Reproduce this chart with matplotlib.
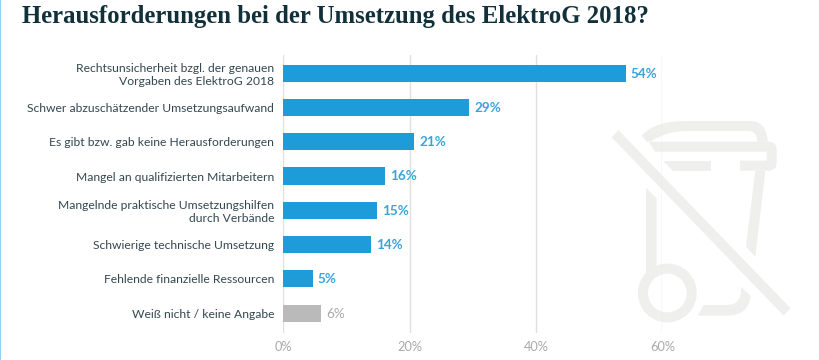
import matplotlib
matplotlib.use("Agg")
import matplotlib.pyplot as plt
from matplotlib.patches import Polygon, Circle, PathPatch, Rectangle
from matplotlib.path import Path

categories = [
    "Rechtsunsicherheit bzgl. der genauen\nVorgaben des ElektroG 2018",
    "Schwer abzuschätzender Umsetzungsaufwand",
    "Es gibt bzw. gab keine Herausforderungen",
    "Mangel an qualifizierten Mitarbeitern",
    "Mangelnde praktische Umsetzungshilfen\ndurch Verbände",
    "Schwierige technische Umsetzung",
    "Fehlende finanzielle Ressourcen",
    "Weiß nicht / keine Angabe",
]
values = [54.2, 29.4, 20.7, 16.1, 14.8, 13.8, 4.6, 6.0]
value_labels = ["54%", "29%", "21%", "16%", "15%", "14%", "5%", "6%"]
ticks = [0, 20, 40, 60]
tick_labels = ["0%", "20%", "40%", "60%"]
title = "Herausforderungen bei der Umsetzung des ElektroG 2018?"

BLUE = "#1E9CD9"
LABEL_BLUE = "#35A5DC"
GREY = "#BABABA"
GREY_TXT = "#A9A9A9"
DARK = "#33474F"
TITLE = "#12303A"
ICON = "#EFEFEE"

W, H = 820, 360
plt.rcParams["font.family"] = ["Lato", "DejaVu Sans"]
fig = plt.figure(figsize=(W / 100, H / 100), dpi=100, facecolor="white")

bg = fig.add_axes([0, 0, 1, 1], zorder=0)
bg.set_xlim(0, W)
bg.set_ylim(H, 0)
bg.axis("off")
bg.add_patch(Rectangle((0, 0), 1.4, H, color="#8FD3EE", lw=0))
bg.add_patch(Rectangle((W - 1.4, 0), 1.4, H, color="#9CCFDF", lw=0))

# Watermark icon (bin, crossed out), outlined in crop coordinates
ox, oy, s = 410, 120, 1 / 3
def P(pts):
    return [(ox + x * s, oy + y * s) for x, y in pts]
for pts in [
    [(605, 52), (625, 30), (1142, 565), (1120, 586)],
    [(760, 122), (902, 122), (902, 152), (790, 152)],
    [(1036, 152), (1066, 152), (1036, 410), (1008, 380)],
    [(708, 203), (740, 236), (740, 440), (708, 465)],
]:
    bg.add_patch(Polygon(P(pts), closed=True, fc=ICON, ec="none"))

L, C3, M, Z = Path.LINETO, Path.CURVE3, Path.MOVETO, Path.CLOSEPOLY
def shape(segs):
    verts, codes = [], []
    for code, pts in segs:
        verts += P(pts)
        codes += [code] * len(pts)
    verts.append(verts[0])
    codes.append(Z)
    bg.add_patch(PathPatch(Path(verts, codes), fc=ICON, ec="none"))

# lid dome
shape([(M, [(695, 48)]), (C3, [(730, 3), (830, 3)]), (L, [(1020, 3)]),
       (C3, [(1070, 3), (1073, 65)]), (L, [(1042, 65)]),
       (C3, [(1042, 33), (1015, 33)]), (L, [(830, 33)]),
       (C3, [(770, 33), (725, 63)]), (L, [(712, 66)])])
# lid rim
shape([(M, [(716, 65)]), (L, [(1075, 65)]), (C3, [(1100, 65), (1100, 90)]),
       (L, [(1100, 128)]), (C3, [(1100, 152), (1075, 152)]), (L, [(990, 152), (990, 122), (1070, 122), (1070, 95), (735, 95)])])
# bottom curve
shape([(M, [(993, 500)]), (L, [(1022, 528)]), (C3, [(1015, 587), (950, 587)]),
       (L, [(864, 587), (880, 555), (950, 555)]), (C3, [(993, 555), (993, 510)])])
bg.add_patch(Circle((ox + 772 * s, oy + 519 * s), 24.4, fc="none", ec=ICON, lw=7.2))

ax = fig.add_axes([283.5 / W, 1 - 333 / H, (662.5 - 283.5) / W, (333 - 55) / H], zorder=1)
ax.patch.set_alpha(0)
ax.set_xlim(0, 60)
ax.set_ylim(7.58, -0.53)
for sp in ax.spines.values():
    sp.set_visible(False)
ax.set_axisbelow(True)
ax.xaxis.grid(True, color="#E0E0E0", lw=1)
ax.yaxis.grid(False)
colors = [BLUE] * 7 + [GREY]
ypos = list(range(len(categories)))
ax.barh(ypos, values, height=0.5, color=colors, edgecolor="none", zorder=2)
ax.set_yticks(ypos, categories)
ax.set_xticks(ticks, tick_labels)
ax.tick_params(axis="both", length=0)
ax.tick_params(axis="y", pad=6.8, labelsize=8.75, labelcolor=DARK)
ax.tick_params(axis="x", pad=5.5, labelsize=9.2, labelcolor=GREY_TXT)
for lab in ax.get_yticklabels():
    lab.set_linespacing(1.2)
for y, v, t, c in zip(ypos, values, value_labels, [LABEL_BLUE] * 7 + [GREY_TXT]):
    ax.annotate(t, (v, y), xytext=(3.6, -0.3), textcoords="offset points",
                va="center", ha="left", color=c, fontsize=9.7,
                fontweight="bold" if c == LABEL_BLUE else "normal")

bg.text(22, 23, title, fontsize=17.8, family="Liberation Serif", fontweight="bold",
        color=TITLE, va="baseline", ha="left")

fig.savefig("out.png", dpi=100, facecolor="white")
